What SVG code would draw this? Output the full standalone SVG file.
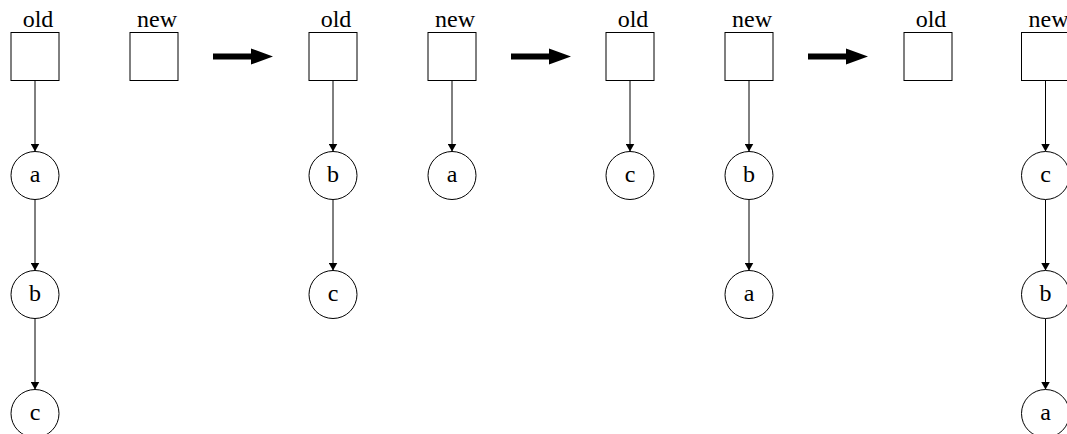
<svg xmlns="http://www.w3.org/2000/svg" width="1067" height="434" viewBox="0 0 1067 434">
<defs>
<style>
.box{fill:#fff;stroke:#000;stroke-width:1}
.node{fill:#fff;stroke:#000;stroke-width:1}
.lbl{font-family:"Liberation Serif","Times New Roman",serif;font-size:24px;fill:#000;text-anchor:middle}
.edge{stroke:#000;stroke-width:1;fill:none;marker-end:url(#ah)}
.big{fill:#000;stroke:none}
</style>
<marker id="ah" viewBox="0 0 8 9" refX="8" refY="4.5" markerWidth="8" markerHeight="9" orient="auto" markerUnits="userSpaceOnUse">
<path d="M0,0 L8,4.5 L0,9 z" fill="#000"/>
</marker>
</defs>
<rect width="1067" height="434" fill="#fff"/>
<g id="connectors">
<line class="edge" x1="35" y1="80.5" x2="35" y2="151.5"/>
<line class="edge" x1="35" y1="199.5" x2="35" y2="270.5"/>
<line class="edge" x1="35" y1="318.5" x2="35" y2="389.5"/>
<line class="edge" x1="333" y1="80.5" x2="333" y2="151.5"/>
<line class="edge" x1="333" y1="199.5" x2="333" y2="270.5"/>
<line class="edge" x1="452" y1="80.5" x2="452" y2="151.5"/>
<line class="edge" x1="630" y1="80.5" x2="630" y2="151.5"/>
<line class="edge" x1="749" y1="80.5" x2="749" y2="151.5"/>
<line class="edge" x1="749" y1="199.5" x2="749" y2="270.5"/>
<line class="edge" x1="1045.5" y1="80.5" x2="1045.5" y2="151.5"/>
<line class="edge" x1="1045.5" y1="199.5" x2="1045.5" y2="270.5"/>
<line class="edge" x1="1045.5" y1="318.5" x2="1045.5" y2="389.5"/>
<path class="big" d="M213,53.5 H251 V48.5 L273,56.5 L251,64.5 V59.5 H213 z"/>
<path class="big" d="M511,53.5 H549 V48.5 L571,56.5 L549,64.5 V59.5 H511 z"/>
<path class="big" d="M808,53.5 H846 V48.5 L868,56.5 L846,64.5 V59.5 H808 z"/>
</g>
<g id="old1"><rect class="box" x="11" y="32.5" width="48" height="48"/><text class="lbl" x="38" y="27">old</text></g>
<g id="new1"><rect class="box" x="130" y="32.5" width="48" height="48"/><text class="lbl" x="157" y="27">new</text></g>
<g id="a1"><circle class="node" cx="35" cy="175.5" r="24"/><text class="lbl" x="35" y="182">a</text></g>
<g id="b1"><circle class="node" cx="35" cy="294.5" r="24"/><text class="lbl" x="35" y="301">b</text></g>
<g id="c1"><circle class="node" cx="35" cy="413.5" r="24"/><text class="lbl" x="35" y="420">c</text></g>

<g id="old2"><rect class="box" x="309" y="32.5" width="48" height="48"/><text class="lbl" x="336" y="27">old</text></g>
<g id="new2"><rect class="box" x="428" y="32.5" width="48" height="48"/><text class="lbl" x="455" y="27">new</text></g>
<g id="b2"><circle class="node" cx="333" cy="175.5" r="24"/><text class="lbl" x="333" y="182">b</text></g>
<g id="c2"><circle class="node" cx="333" cy="294.5" r="24"/><text class="lbl" x="333" y="301">c</text></g>
<g id="a2"><circle class="node" cx="452" cy="175.5" r="24"/><text class="lbl" x="452" y="182">a</text></g>

<g id="old3"><rect class="box" x="606" y="32.5" width="48" height="48"/><text class="lbl" x="633" y="27">old</text></g>
<g id="new3"><rect class="box" x="725" y="32.5" width="48" height="48"/><text class="lbl" x="752" y="27">new</text></g>
<g id="c3"><circle class="node" cx="630" cy="175.5" r="24"/><text class="lbl" x="630" y="182">c</text></g>
<g id="b3"><circle class="node" cx="749" cy="175.5" r="24"/><text class="lbl" x="749" y="182">b</text></g>
<g id="a3"><circle class="node" cx="749" cy="294.5" r="24"/><text class="lbl" x="749" y="301">a</text></g>

<g id="old4"><rect class="box" x="904" y="32.5" width="48" height="48"/><text class="lbl" x="931" y="27">old</text></g>
<g id="new4"><rect class="box" x="1021.5" y="32.5" width="48" height="48"/><text class="lbl" x="1048.5" y="27">new</text></g>
<g id="c4"><circle class="node" cx="1045.5" cy="175.5" r="24"/><text class="lbl" x="1045.5" y="182">c</text></g>
<g id="b4"><circle class="node" cx="1045.5" cy="294.5" r="24"/><text class="lbl" x="1045.5" y="301">b</text></g>
<g id="a4"><circle class="node" cx="1045.5" cy="413.5" r="24"/><text class="lbl" x="1045.5" y="420">a</text></g>
</svg>
